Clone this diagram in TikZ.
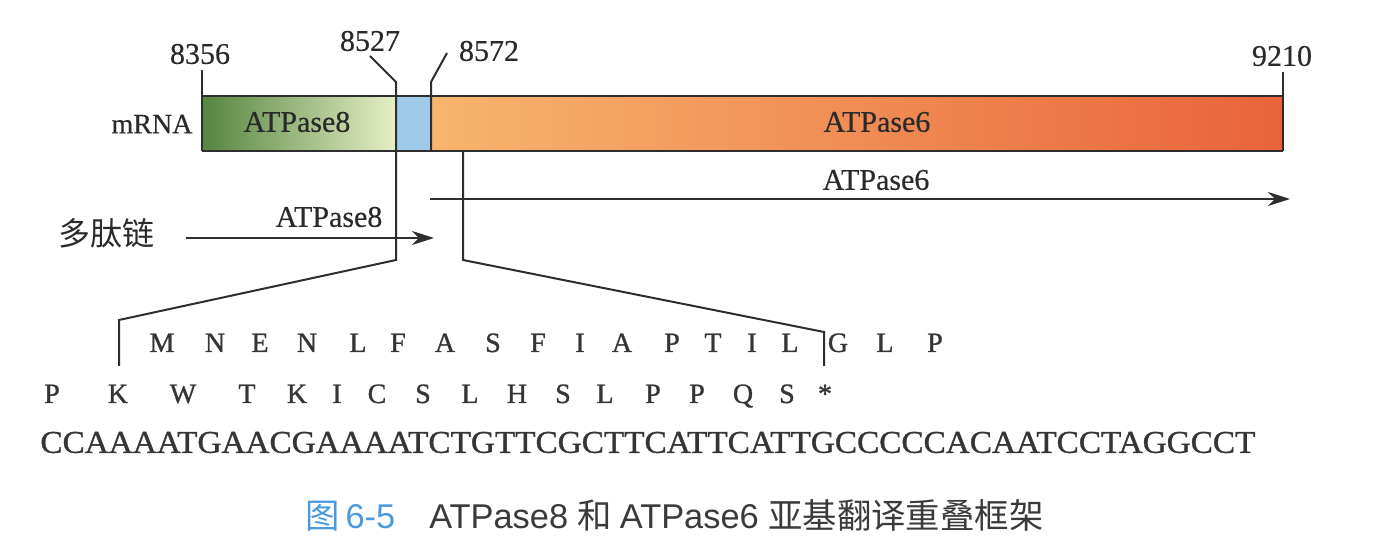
\documentclass[tikz,border=0pt]{standalone}
\usepackage{graphicx}
\usepackage{fontspec}
\setmainfont[FakeBold=0.4]{Liberation Serif}
\newfontfamily\seqfont[FakeBold=1]{Liberation Serif}
\newfontfamily\cjk{Noto Sans CJK SC}
\newfontfamily\capsans{Liberation Sans}
\usetikzlibrary{arrows.meta}
\definecolor{ink}{HTML}{2E2E2E}
\definecolor{txt}{HTML}{2A2A2A}
\definecolor{seqc}{HTML}{353535}
\definecolor{gdark}{HTML}{55853F}
\definecolor{glight}{HTML}{E6EFC6}
\definecolor{bluefill}{HTML}{9FCAEA}
\definecolor{olight}{HTML}{F7B56E}
\definecolor{odark}{HTML}{E9633A}
\definecolor{capblue}{HTML}{4A9BDD}
\definecolor{capgray}{HTML}{3A3A3A}
\begin{document}
\begin{tikzpicture}[x=0.5pt,y=-0.5pt,
  conn/.style={draw=ink,line width=1pt,line join=miter},
  arr/.style={draw=ink,line width=0.9pt,-{Stealth[length=11pt,width=7pt,inset=3.5pt]}},
  lbl/.style={inner sep=0pt,text=txt,font=\fontsize{14}{16}\selectfont},
  num/.style={inner sep=0pt,text=txt,font=\fontsize{15}{16}\selectfont},
  gene/.style={inner sep=0pt,text=txt,font=\fontsize{15}{16}\selectfont},
  aa/.style={inner sep=0pt,text=seqc,font=\seqfont\fontsize{14}{16}\selectfont,anchor=base},
]
\useasboundingbox (0,0) rectangle (1386,549);
% mRNA bar
\shade[left color=gdark,right color=glight] (202,96) rectangle (396,151);
\fill[bluefill] (396,96) rectangle (431,151);
\shade[left color=olight,right color=odark] (431,96) rectangle (1283,151);
\draw[conn] (202,96) -- (1283,96) (202,151) -- (1283,151);
\node[gene] (bar8) at (297,122) {ATPase8};
\node[gene] (bar6) at (877,122) {ATPase6};
\node[lbl] (mrna) at (152,124) {mRNA};
% position labels
\node[num] (n8356) at (200,54) {8356};
\node[num] (n8527) at (370,41) {8527};
\node[num] (n8572) at (489,51) {8572};
\node[num] (n9210) at (1282,56) {9210};
\coordinate (t1a) at (202,70);  \coordinate (t1b) at (202,151);
\coordinate (t4a) at (1283,72); \coordinate (t4b) at (1283,151);
\draw[conn] (t1a) -- (t1b);
\draw[conn] (t4a) -- (t4b);
\coordinate (p1) at (370,56); \coordinate (p2) at (396,82); \coordinate (p3) at (396,260);
\coordinate (p4) at (119,320); \coordinate (p5) at (119,366);
\draw[conn] (p1) -- (p2) -- (p3) -- (p4) -- (p5);
\coordinate (q1) at (447,53); \coordinate (q2) at (431,82); \coordinate (q3) at (431,151);
\draw[conn] (q1) -- (q2) -- (q3);
\coordinate (s1) at (463,151); \coordinate (s2) at (463,260);
\coordinate (s3) at (824,332); \coordinate (s4) at (824,366);
\draw[conn] (s1) -- (s2) -- (s3) -- (s4);
% polypeptide arrows
\node[lbl,font=\cjk\fontsize{16}{18}\selectfont] (poly) at (106,233) {多肽链};
\coordinate (a6s) at (430,199); \coordinate (a6e) at (1290,199);
\draw[arr] (a6s) -- (a6e);
\node[gene] (lab6) at (876,180) {ATPase6};
\coordinate (a8s) at (186,238); \coordinate (a8e) at (434,238);
\draw[arr] (a8s) -- (a8e);
\node[gene] (lab8) at (329,217) {ATPase8};
% amino acid rows
\foreach \c/\x [count=\i] in {M/162,N/215,E/260,N/307,L/358,F/398,A/445,S/493,F/538,I/580,A/622,P/672,T/713,I/752,L/790,G/838,L/885,P/935}
  \node[aa] (ra\i) at (\x,352) {\c};
\foreach \c/\x [count=\i] in {P/52,K/118,W/183,T/247,K/297,I/337,C/377,S/423,L/470,H/517,S/563,L/605,P/653,P/697,Q/743,S/787,*/825}
  \node[aa] (rb\i) at (\x,403) {\c};
% nucleotide sequence
\node[inner sep=0pt,anchor=west,text=seqc,font=\seqfont] (dna) at (40,442.5)
  {\resizebox{607.5pt}{10.5pt}{CCAAAATGAACGAAAATCTGTTCGCTTCATTCATTGCCCCCACAATCCTAGGCCT}};
% caption
\node[inner sep=0pt,anchor=west] (cap) at (305,515)
  {\cjk\fontsize{17.2}{19}\selectfont\color{capblue}图\,\capsans 6-5\hspace{17pt}\color{capgray}ATPase8 \cjk 和 \capsans ATPase6 \cjk 亚基翻译重叠框架};
\end{tikzpicture}
\end{document}
